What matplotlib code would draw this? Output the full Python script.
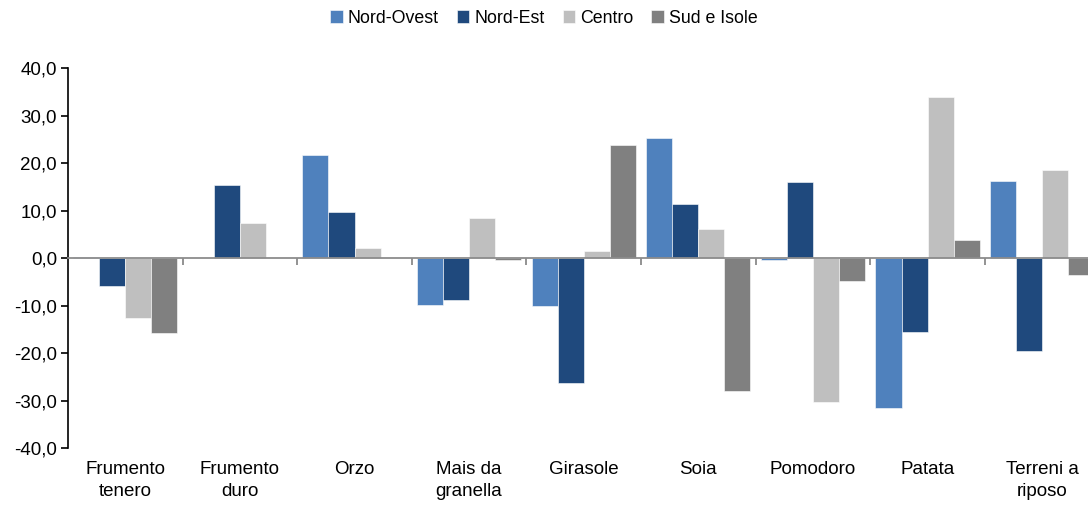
import matplotlib

matplotlib.use("Agg")
import matplotlib.pyplot as plt
import matplotlib.transforms as mtransforms
from matplotlib.ticker import FuncFormatter
import numpy as np

plt.rcParams["font.family"] = ["Liberation Sans Narrow", "Liberation Sans", "DejaVu Sans"]

categories = [
    "Frumento\ntenero", "Frumento\nduro", "Orzo", "Mais da\ngranella", "Girasole",
    "Soia", "Pomodoro", "Patata", "Terreni a\nriposo",
]
series_names = ["Nord-Ovest", "Nord-Est", "Centro", "Sud e Isole"]
nord_ovest = [0.2, 0.0, 21.7, -9.8, -10.1, 25.3, -0.5, -31.6, 16.2]
nord_est = [-5.8, 15.4, 9.7, -8.8, -26.3, 11.3, 16.1, -15.6, -19.6]
centro = [-12.6, 7.4, 2.1, 8.4, 1.5, 6.2, -30.2, 34.0, 18.5]
sud_isole = [-15.7, 0.0, 0.0, -0.5, 23.9, -28.0, -4.8, 3.8, -3.6]
colors = ["#4F81BD", "#1F497D", "#BFBFBF", "#808080"]

fig = plt.figure(figsize=(10.88, 5.08), dpi=100)
ax = fig.add_axes([0.0625, 0.118, 0.948, 0.748])

x = np.arange(len(categories))
w = 0.227
for i, (name, vals) in enumerate(zip(series_names, [nord_ovest, nord_est, centro, sud_isole])):
    ax.bar(x + (i - 1.5) * w, vals, width=w, color=colors[i], label=name,
           edgecolor="white", linewidth=0.4, zorder=2)

ax.set_xlim(-0.5, len(categories) - 0.5)
ax.set_ylim(-40, 40)
ax.set_yticks(np.arange(-40, 41, 10))
ax.yaxis.set_major_formatter(FuncFormatter(lambda v, p: f"{v:.1f}".replace(".", ",")))
ax.tick_params(axis="y", direction="out", length=5, width=1.2, labelsize=13.5, pad=3)

for s in ["top", "right"]:
    ax.spines[s].set_visible(False)
ax.spines["left"].set_linewidth(1.2)
ax.spines["bottom"].set_position(("data", 0))
ax.spines["bottom"].set_color("#8c8c8c")
ax.spines["bottom"].set_linewidth(1.3)
ax.spines["bottom"].set_zorder(3)
ax.set_xticks(np.arange(0.5, len(categories) - 0.5, 1.0))
ax.tick_params(axis="x", direction="out", length=5, width=1.2, color="#808080",
               labelbottom=False)

trans = mtransforms.blended_transform_factory(ax.transData, ax.transAxes)
for xi, lab in zip(x, categories):
    ax.text(xi, -0.033, lab, transform=trans, ha="center", va="top",
            fontsize=13.5, linespacing=1.45)

fig.legend(loc="upper center", bbox_to_anchor=(0.5, 1.012), ncol=4, frameon=False,
           fontsize=12.8, handlelength=0.7, handleheight=0.7, handletextpad=0.3,
           columnspacing=1.0)

fig.savefig("out.png", dpi=100)
